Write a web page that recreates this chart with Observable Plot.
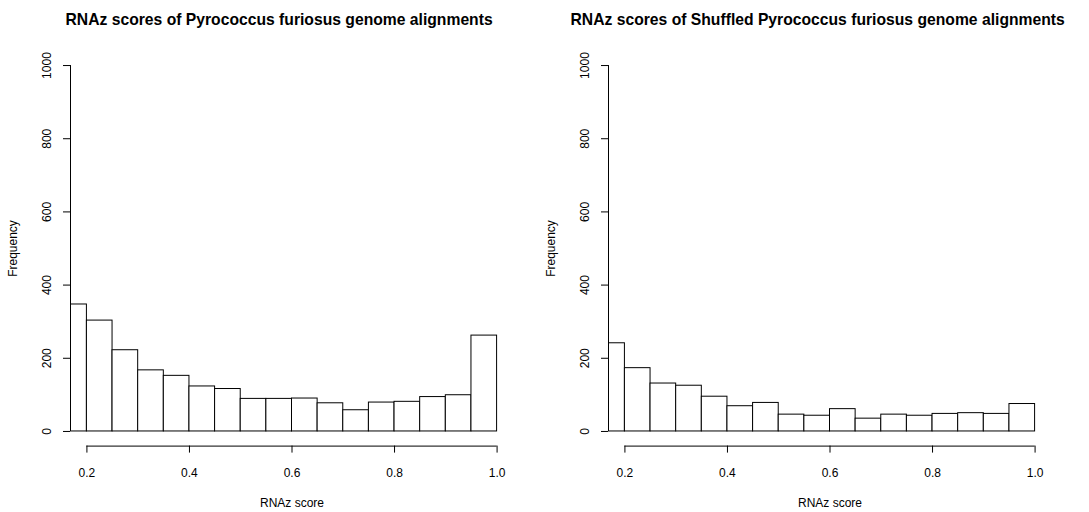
<!DOCTYPE html>
<html>
<head>
<meta charset="utf-8">
<script src="https://cdn.jsdelivr.net/npm/d3@7"></script>
<script src="https://cdn.jsdelivr.net/npm/@observablehq/plot@0.6"></script>
<style>
  html, body { margin: 0; padding: 0; background: #fff; }
  #wrap { position: relative; width: 1089px; height: 512px; overflow: hidden; background: #fff; }
  #left { position: absolute; left: 0; top: 0; width: 538px; height: 512px; }
  #right { position: absolute; left: 538px; top: 0; width: 551px; height: 512px; overflow: hidden; }
  #wrap svg { overflow: hidden; max-width: none !important; }
</style>
</head>
<body>
<div id="wrap"><div id="left"></div><div id="right"></div></div>
<script>
// Histogram bin edges (RNAz score)
const breaks = [0.15, 0.2, 0.25, 0.3, 0.35, 0.4, 0.45, 0.5, 0.55, 0.6, 0.65, 0.7, 0.75, 0.8, 0.85, 0.9, 0.95, 1.0];
// Frequencies per bin
const genomeCounts = [347, 303, 222, 167, 152, 123, 116, 89, 89, 90, 77, 58, 79, 81, 94, 99, 262];
const shuffledCounts = [241, 173, 131, 125, 95, 69, 78, 46, 43, 61, 35, 46, 43, 48, 50, 48, 75];
// Axis ticks
const xTicks = [0.2, 0.4, 0.6, 0.8, 1.0];
const yTicks = [0, 200, 400, 600, 800, 1000];
// Titles and labels
const titles = [
  "RNAz scores of Pyrococcus furiosus genome alignments",
  "RNAz scores of Shuffled Pyrococcus furiosus genome alignments"
];
const xLabel = "RNAz score";
const yLabel = "Frequency";

// R-style limits: xlim c(0.2,1), ylim c(0,1000) with 4% extension
const xDomain = [0.2 - 0.032, 1.0 + 0.032];
const yDomain = [-40, 1040];

const font = "'Liberation Sans', Arial, Helvetica, sans-serif";

function panel(counts, title, width, marginRight, titleDx) {
  const bins = counts.map((c, i) => ({x1: breaks[i], x2: breaks[i + 1], count: c}));
  return Plot.plot({
    width,
    height: 512,
    marginLeft: 70,
    marginRight,
    marginTop: 50.4,
    marginBottom: 66.4,
    style: {fontFamily: font, fontSize: "12px", background: "#fff", color: "#000", maxWidth: "none"},
    x: {domain: xDomain, axis: null},
    y: {domain: yDomain, axis: null},
    marks: [
      Plot.rectY(bins, {x1: "x1", x2: "x2", y1: 0, y2: "count", fill: "#fff", stroke: "#000", strokeWidth: 1, clip: true}),
      // y axis
      Plot.ruleX([xDomain[0]], {y1: yTicks[0], y2: yTicks[yTicks.length - 1], stroke: "#000"}),
      Plot.axisY(yTicks, {anchor: "left", tickSize: 7, tickFormat: () => "", label: null, stroke: "#000"}),
      Plot.text(yTicks, {y: d => d, text: d => String(d), frameAnchor: "left", dx: -23, rotate: -90, textAnchor: "middle", lineAnchor: "middle", fontSize: 12, fill: "#000"}),
      Plot.text([yLabel], {frameAnchor: "left", dx: -57, rotate: -90, textAnchor: "middle", lineAnchor: "middle", fontSize: 12, fill: "#000"}),
      // x axis
      Plot.ruleY([yDomain[0]], {x1: xTicks[0], x2: xTicks[xTicks.length - 1], stroke: "#000"}),
      Plot.axisX(xTicks, {anchor: "bottom", tickSize: 7, tickFormat: () => "", label: null, stroke: "#000"}),
      Plot.text(xTicks, {x: d => d, text: d => d.toFixed(1), frameAnchor: "bottom", dy: 27, textAnchor: "middle", lineAnchor: "middle", fontSize: 12, fill: "#000"}),
      Plot.text([xLabel], {frameAnchor: "bottom", dy: 57.4, textAnchor: "middle", lineAnchor: "middle", fontSize: 12, fill: "#000"}),
      // title
      Plot.text([title], {frameAnchor: "top-left", dx: titleDx, dy: -31.4, textAnchor: "start", lineAnchor: "middle", fontSize: 15.7, fontWeight: "bold", fill: "#000"})
    ]
  });
}

document.getElementById("left").append(panel(genomeCounts, titles[0], 538, 25, -5));
document.getElementById("right").append(panel(shuffledCounts, titles[1], 551, 38, -38));
</script>
</body>
</html>
